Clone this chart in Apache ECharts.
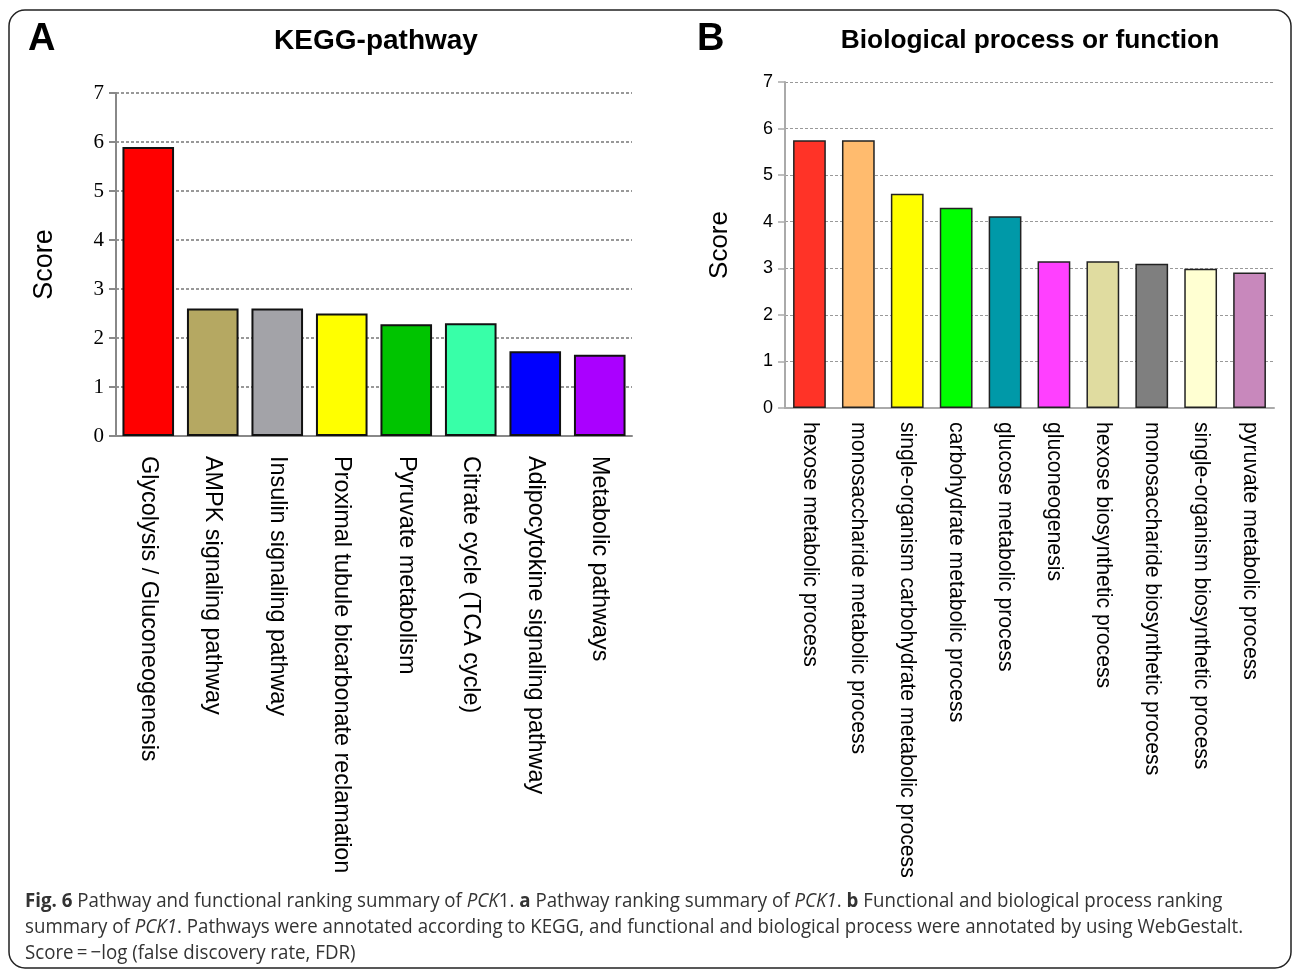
<!DOCTYPE html>
<html>
<head>
<meta charset="utf-8">
<title>PCK1 pathway and functional ranking</title>
<script src="https://cdn.jsdelivr.net/npm/echarts@6/dist/echarts.min.js"></script>
<style>
  html, body { margin: 0; padding: 0; background: #fff; }
  #chart { width: 1293px; height: 972px; }
</style>
</head>
<body>
<div id="chart"></div>
<script>
// Panel A: KEGG pathways
const keggCategories = [
  'Glycolysis / Gluconeogenesis',
  'AMPK signaling pathway',
  'Insulin signaling pathway',
  'Proximal tubule bicarbonate reclamation',
  'Pyruvate metabolism',
  'Citrate cycle (TCA cycle)',
  'Adipocytokine signaling pathway',
  'Metabolic pathways'
];
const keggScores = [5.9, 2.6, 2.6, 2.5, 2.28, 2.3, 1.73, 1.66];
const keggColors = ['#ff0000', '#b5a862', '#a3a3a8', '#ffff00', '#00c400', '#38ffa8', '#0000ff', '#aa00ff'];

// Panel B: biological process / function
const bioCategories = [
  'hexose metabolic process',
  'monosaccharide metabolic process',
  'single-organism carbohydrate metabolic process',
  'carbohydrate metabolic process',
  'glucose metabolic process',
  'gluconeogenesis',
  'hexose biosynthetic process',
  'monosaccharide biosynthetic process',
  'single-organism biosynthetic process',
  'pyruvate metabolic process'
];
const bioScores = [5.75, 5.75, 4.6, 4.3, 4.12, 3.15, 3.15, 3.1, 2.99, 2.91];
const bioColors = ['#ff3327', '#ffbb6e', '#ffff00', '#00ff00', '#0099a8', '#ff40ff', '#e0dca0', '#7f7f7f', '#ffffd2', '#c888bc'];

const scoreAxis = { min: 0, max: 7, interval: 1 };

const chart = echarts.init(document.getElementById('chart'));

function coloredBars(values, colors, borderColor, borderWidth) {
  return values.map((v, i) => ({
    value: v,
    itemStyle: { color: colors[i], borderColor: borderColor, borderWidth: borderWidth }
  }));
}

const sans = 'Liberation Sans, Arial, sans-serif';
const serif = 'Liberation Serif, Times New Roman, serif';
const capFont = 'Open Sans, Noto Sans, sans-serif';

chart.setOption({
  animation: false,
  backgroundColor: '#ffffff',
  title: [
    {
      text: 'KEGG-pathway', left: 371, top: 22, textAlign: 'center',
      textStyle: { fontFamily: sans, fontWeight: 'bold', fontSize: 28, color: '#000' }
    },
    {
      text: 'Biological process or function', left: 1025, top: 23, textAlign: 'center',
      textStyle: { fontFamily: sans, fontWeight: 'bold', fontSize: 26.3, color: '#000' }
    }
  ],
  grid: [
    { left: 116, right: 661, top: 93, bottom: 536, containLabel: false },
    { left: 785, right: 19, top: 82, bottom: 564, containLabel: false }
  ],
  xAxis: [
    {
      type: 'category', gridIndex: 0, data: keggCategories,
      axisLine: { lineStyle: { color: '#888', width: 2 } },
      axisTick: { alignWithLabel: true, length: 9, lineStyle: { color: '#888', width: 2 } },
      axisLabel: { rotate: -90, margin: 20, interval: 0, fontFamily: sans, fontSize: 23.4, color: '#000' }
    },
    {
      type: 'category', gridIndex: 1, data: bioCategories,
      axisLine: { lineStyle: { color: '#aaa', width: 2 } },
      axisTick: { alignWithLabel: true, length: 9, lineStyle: { color: '#aaa', width: 2 } },
      axisLabel: { rotate: -90, margin: 14, interval: 0, fontFamily: sans, fontSize: 21.2, color: '#000' }
    }
  ],
  yAxis: [
    {
      type: 'value', gridIndex: 0, min: scoreAxis.min, max: scoreAxis.max, interval: scoreAxis.interval,
      name: 'Score', nameLocation: 'middle', nameGap: 58, nameRotate: 90,
      nameTextStyle: { fontFamily: sans, fontSize: 27, color: '#000' },
      axisLine: { show: true, lineStyle: { color: '#888', width: 2 } },
      axisTick: { show: true, length: 7, lineStyle: { color: '#888', width: 2 } },
      axisLabel: { margin: 12, fontFamily: serif, fontSize: 21, color: '#000' },
      splitLine: { show: true, lineStyle: { color: '#777', width: 1.5, type: [3, 2] } }
    },
    {
      type: 'value', gridIndex: 1, min: scoreAxis.min, max: scoreAxis.max, interval: scoreAxis.interval,
      name: 'Score', nameLocation: 'middle', nameGap: 52, nameRotate: 90,
      nameTextStyle: { fontFamily: sans, fontSize: 26, color: '#000' },
      axisLine: { show: true, lineStyle: { color: '#aaa', width: 2 } },
      axisTick: { show: true, length: 7, lineStyle: { color: '#aaa', width: 1.5 } },
      axisLabel: { margin: 12, fontFamily: sans, fontSize: 18, color: '#000' },
      splitLine: { show: true, lineStyle: { color: '#999', width: 1.2, type: [3, 2] } }
    }
  ],
  series: [
    {
      type: 'bar', xAxisIndex: 0, yAxisIndex: 0, barWidth: '80%',
      data: coloredBars(keggScores, keggColors, '#111', 2)
    },
    {
      type: 'bar', xAxisIndex: 1, yAxisIndex: 1, barWidth: '67%',
      data: coloredBars(bioScores, bioColors, '#222', 1.5)
    }
  ],
  graphic: [
    {
      type: 'rect', z: -1, silent: true,
      shape: { x: 9, y: 10, width: 1282, height: 958, r: 16 },
      style: { fill: 'none', stroke: '#222', lineWidth: 1.5 }
    },
    {
      type: 'text', left: 28, top: 21,
      style: { text: 'A', font: 'bold 38px ' + sans, fill: '#000' }
    },
    {
      type: 'text', left: 697, top: 21,
      style: { text: 'B', font: 'bold 38px ' + sans, fill: '#000' }
    },
    {
      // figure caption, set slightly condensed
      type: 'text', x: 25, y: 888, scaleX: 0.935,
      style: {
        text: '{b|Fig. 6} Pathway and functional ranking summary of {i|PCK}1. {b|a} Pathway ranking summary of {i|PCK1}. {b|b} Functional and biological process ranking\n' +
              'summary of {i|PCK1}. Pathways were annotated according to KEGG, and functional and biological process were annotated by using WebGestalt.\n' +
              'Score\u2009=\u2009\u2212log (false discovery rate, FDR)',
        fontFamily: capFont, fontSize: 20, lineHeight: 26, fill: '#333',
        rich: {
          b: { fontFamily: capFont, fontSize: 20, fontWeight: 'bold', lineHeight: 26, fill: '#333' },
          i: { fontFamily: capFont, fontSize: 20, fontStyle: 'italic', lineHeight: 26, fill: '#333' }
        }
      }
    }
  ]
});
</script>
</body>
</html>
